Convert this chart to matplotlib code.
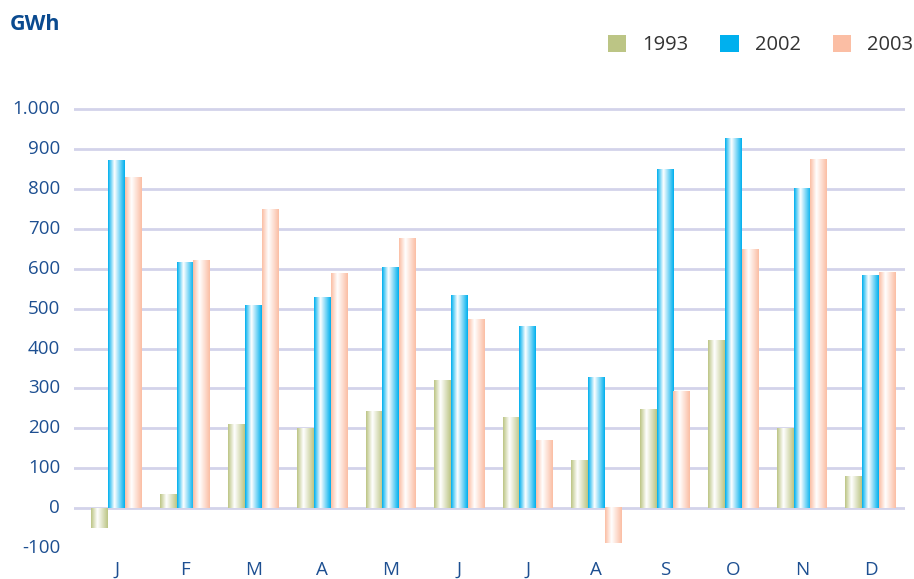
import numpy as np
import matplotlib
matplotlib.use('Agg')
import matplotlib.pyplot as plt
from matplotlib.colors import LinearSegmentedColormap
from matplotlib.patches import Patch

plt.rcParams['font.family'] = ['Open Sans', 'DejaVu Sans']

months = ['J', 'F', 'M', 'A', 'M', 'J', 'J', 'A', 'S', 'O', 'N', 'D']
years = ['1993', '2002', '2003']
v1993 = [-50, 35, 208, 200, 241, 319, 226, 120, 246, 420, 200, 78]
v2002 = [872, 615, 507, 527, 603, 533, 455, 327, 849, 925, 801, 583]
v2003 = [827, 620, 749, 588, 676, 472, 168, -88, 291, 648, 874, 590]
colors = ['#bcc585', '#00b0ee', '#fbbea4']

fig = plt.figure(figsize=(9.14, 5.79), dpi=100)
ax = fig.add_axes([0.081, 0.0535, 0.909, 0.765])

x = np.arange(len(months))
w = 0.245
grad = np.linspace(0, 1, 64).reshape(1, -1)

for k, (vals, c) in enumerate(zip([v1993, v2002, v2003], colors)):
    cmap = LinearSegmentedColormap.from_list('g%d' % k, [(0, c), (0.38, '#ffffff'), (1, c)])
    bars = ax.bar(x + (k - 1) * w, vals, w, color='none', edgecolor='none')
    for b in bars:
        x0, y0 = b.get_x(), b.get_y()
        bw, bh = b.get_width(), b.get_height()
        ax.imshow(grad, cmap=cmap, aspect='auto', zorder=3,
                  extent=[x0, x0 + bw, y0, y0 + bh])

for gy in range(0, 1001, 100):
    ax.axhline(gy, color='#d3d3ea', lw=2, zorder=1)

ax.set_xlim(-0.62, 11.5)
ax.set_ylim(-100, 1010)
ax.set_xticks(x)
ax.set_xticklabels(months)
ax.set_yticks(range(-100, 1001, 100))
ax.set_yticklabels(['-100', '0', '100', '200', '300', '400', '500', '600', '700',
                    '800', '900', '1.000'])
ax.tick_params(length=0, labelsize=13.5, labelcolor='#1d4f91')
ax.tick_params(axis='x', pad=9)
ax.tick_params(axis='y', pad=10)
for lab in ax.get_yticklabels():
    lab.set_va('center')
for s in ax.spines.values():
    s.set_visible(False)

fig.text(0.011, 0.958, 'GWh', fontsize=15.5, fontweight='bold', color='#0a4a8f', va='center')

handles = [Patch(facecolor=c, edgecolor='none') for c in colors]
fig.legend(handles, years, loc='center right', bbox_to_anchor=(1.019, 0.922), ncol=3,
           frameon=False, fontsize=14.5, handlelength=0.9, handleheight=0.9,
           columnspacing=1.6, handletextpad=0.8, labelcolor='#333333')

fig.savefig('out.png', dpi=100)
